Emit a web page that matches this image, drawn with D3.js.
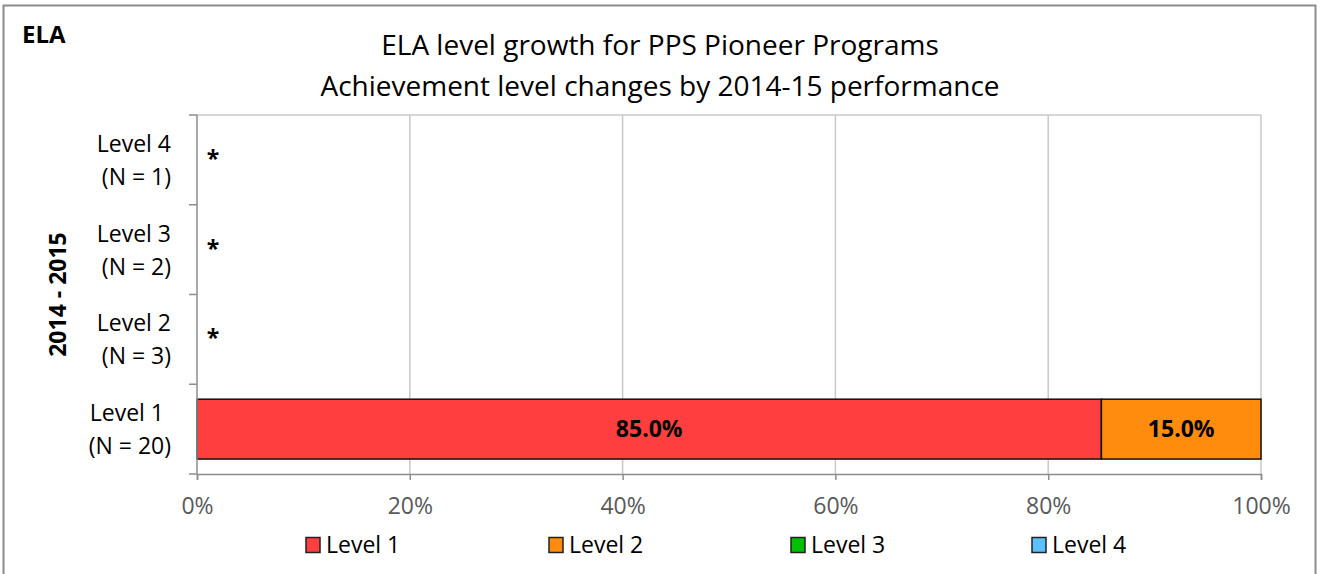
<!DOCTYPE html>
<html>
<head>
<meta charset="utf-8">
<script src="https://cdn.jsdelivr.net/npm/d3@7"></script>
<style>
  html, body { margin: 0; padding: 0; background: #fff; }
  svg { display: block; font-family: "Open Sans", "Noto Sans", sans-serif; }
</style>
</head>
<body>
<svg id="chart" width="1320" height="574"></svg>
<script>
// ---- data ----
const categories = ["Level 4", "Level 3", "Level 2", "Level 1"];
const nCounts = [1, 2, 3, 20];
const suppressed = [true, true, true, false];
const seriesNames = ["Level 1", "Level 2", "Level 3", "Level 4"];
const level1 = [0, 0, 0, 85.0];
const level2 = [0, 0, 0, 15.0];
const level3 = [0, 0, 0, 0];
const level4 = [0, 0, 0, 0];
const xTicks = [0, 20, 40, 60, 80, 100];
const titleLines = ["ELA level growth for PPS Pioneer Programs", "Achievement level changes by 2014-15 performance"];
const cornerLabel = "ELA";
const yAxisTitle = "2014 - 2015";

const colors = ["#FF3F3F", "#FF8C0D", "#00C000", "#5BC0FF"];
const FS = 23;

const svg = d3.select("#chart");
const plot = { left: 197, right: 1261, top: 115, bottom: 474 };

// outer border
svg.append("rect").attr("x", 3.5).attr("y", 5.5).attr("width", 1312).attr("height", 580)
  .attr("fill", "#fff").attr("stroke", "#8c8c8c").attr("stroke-width", 2);

const x = d3.scaleLinear().domain([0, 100]).range([plot.left, plot.right]);
const y = d3.scaleBand().domain(categories).range([plot.top, plot.bottom]).paddingInner(0).paddingOuter(0);
const barH = y.bandwidth() * 0.667;

// gridlines
svg.append("g").selectAll("line").data(xTicks.filter(t => t > 0)).join("line")
  .attr("x1", d => x(d)).attr("x2", d => x(d))
  .attr("y1", plot.top).attr("y2", plot.bottom)
  .attr("stroke", "#c8c8c8").attr("stroke-width", 1.5);
svg.append("line").attr("x1", plot.left).attr("x2", plot.right)
  .attr("y1", plot.top).attr("y2", plot.top)
  .attr("stroke", "#c8c8c8").attr("stroke-width", 1.5);

// stacked bars
const rows = categories.map((c, i) => ({ cat: c, vals: [level1[i], level2[i], level3[i], level4[i]] }));
const segs = [];
rows.forEach(r => {
  let acc = 0;
  r.vals.forEach((v, k) => {
    if (v > 0) segs.push({ cat: r.cat, k, x0: acc, x1: acc + v, v });
    acc += v;
  });
});
const barG = svg.append("g");
barG.selectAll("rect").data(segs).join("rect")
  .attr("x", d => x(d.x0)).attr("width", d => x(d.x1) - x(d.x0))
  .attr("y", d => y(d.cat) + (y.bandwidth() - barH) / 2).attr("height", barH)
  .attr("fill", d => colors[d.k]).attr("stroke", "#111").attr("stroke-width", 1.5);
barG.selectAll("text").data(segs).join("text")
  .attr("x", d => x((d.x0 + d.x1) / 2)).attr("y", d => y(d.cat) + y.bandwidth() / 2)
  .attr("dy", "0.36em").attr("text-anchor", "middle")
  .attr("font-size", FS).attr("font-weight", "bold").attr("fill", "#000")
  .text(d => d.v.toFixed(1) + "%");

// suppressed asterisks
svg.append("g").selectAll("text").data(categories.filter((c, i) => suppressed[i])).join("text")
  .attr("x", x(0) + 16).attr("y", d => y(d) + y.bandwidth() / 2 + 7)
  .attr("text-anchor", "middle").attr("font-size", FS).attr("font-weight", "bold")
  .text("*");

// x axis
const xAxis = d3.axisBottom(x).tickValues(xTicks).tickFormat(d => d + "%").tickSize(6).tickPadding(18);
const xg = svg.append("g").attr("transform", `translate(0,${plot.bottom})`).call(xAxis);
xg.select(".domain").attr("stroke", "#8c8c8c").attr("stroke-width", 1.5);
xg.selectAll(".tick line").attr("stroke", "#8c8c8c").attr("stroke-width", 1.5);
xg.selectAll(".tick text").attr("font-size", FS).attr("fill", "#595959").attr("font-family", "\"Open Sans\", sans-serif");

// y axis (band boundary ticks)
const yAxisLine = svg.append("g");
yAxisLine.append("line").attr("x1", plot.left).attr("x2", plot.left).attr("y1", plot.top).attr("y2", plot.bottom)
  .attr("stroke", "#8c8c8c").attr("stroke-width", 1.5);
const bounds = categories.map(c => y(c)).concat([plot.bottom]);
yAxisLine.selectAll("line.t").data(bounds).join("line").attr("class", "t")
  .attr("x1", plot.left - 8).attr("x2", plot.left).attr("y1", d => d).attr("y2", d => d)
  .attr("stroke", "#8c8c8c").attr("stroke-width", 1.5);

// category labels
const labG = svg.append("g");
categories.forEach((c, i) => {
  const cy = y(c) + y.bandwidth() / 2;
  const t = labG.append("text").attr("text-anchor", "end").attr("font-size", FS).attr("fill", "#000");
  t.append("tspan").attr("x", nCounts[i] >= 10 ? 164 : 171).attr("y", cy - 8).text(c);
  t.append("tspan").attr("x", 171).attr("y", cy + 25).text(`(N = ${nCounts[i]})`);
});

// y axis title
svg.append("text").attr("transform", `translate(66,${(plot.top + plot.bottom) / 2}) rotate(-90)`)
  .attr("text-anchor", "middle").attr("font-size", FS).attr("font-weight", "bold").text(yAxisTitle);

// titles
svg.append("text").attr("x", 22).attr("y", 43).attr("font-size", 24).attr("font-weight", "bold").text(cornerLabel);
svg.append("g").selectAll("text").data(titleLines).join("text")
  .attr("x", 660).attr("y", (d, i) => 55 + i * 41).attr("text-anchor", "middle")
  .attr("font-size", 28).attr("fill", "#000").text(d => d);

// legend
const legX = [306, 549, 791, 1032];
const leg = svg.append("g").selectAll("g").data(seriesNames).join("g")
  .attr("transform", (d, i) => `translate(${legX[i]},545)`);
leg.append("rect").attr("x", 0).attr("y", -7.5).attr("width", 14).attr("height", 15)
  .attr("fill", (d, i) => colors[i]).attr("stroke", "#222").attr("stroke-width", 1.5);
leg.append("text").attr("x", 20).attr("dy", "0.36em").attr("font-size", FS).text(d => d);
</script>
</body>
</html>
